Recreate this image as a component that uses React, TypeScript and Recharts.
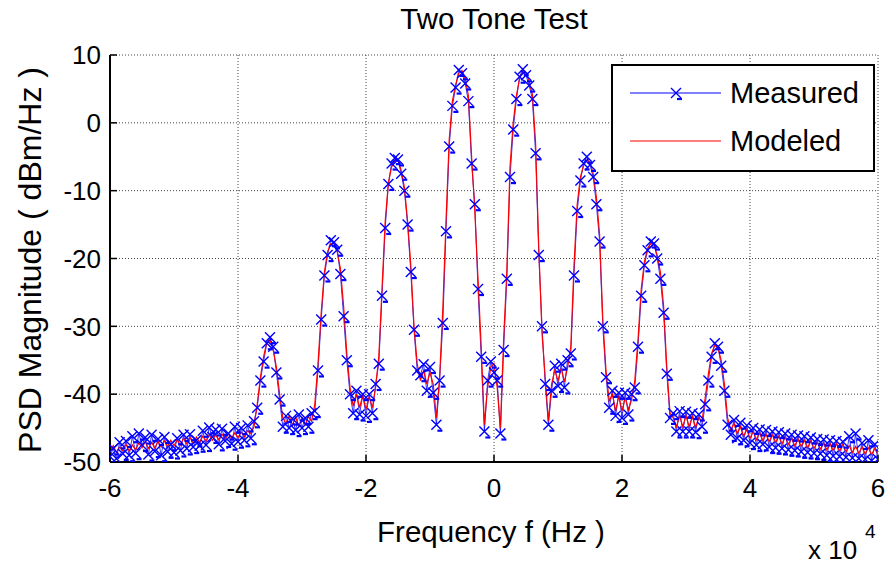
import { LineChart, Line, XAxis, YAxis, CartesianGrid } from "recharts";

// frequency grid, in units of 10^4 Hz
const freqStart = -6;
const freqStep = 0.05;

// PSD (dBm/Hz), one row per 1 x 10^4 Hz
const measured = [
  -49.2, -48.0, -49.5, -47.1, -48.8, -46.9, -49.0, -46.2, -48.7, -45.8, -47.5, -46.4, -48.9, -46.0, -48.4, -46.6, -49.0, -46.3, -48.5, -47.4,
  -48.6, -46.5, -48.3, -46.0, -48.0, -45.9, -47.8, -46.8, -47.6, -45.4, -47.5, -44.9, -46.3, -45.2, -47.4, -45.1, -46.9, -45.8, -47.3, -44.8,
  -47.0, -45.0, -46.8, -44.6, -46.5, -44.0, -42.0, -38.0, -35.2, -32.5, -31.6, -33.0, -36.8, -40.8, -44.8, -43.2, -45.0, -43.6, -45.3, -43.0,
  -45.0, -43.5, -44.8, -42.8, -42.5, -36.5, -29.0, -22.5, -19.5, -17.3, -17.6, -18.7, -22.3, -28.5, -35.0, -40.0, -42.8, -39.5, -43.0, -40.0,
  -43.2, -40.0, -42.8, -38.5, -35.5, -25.5, -15.5, -9.0, -6.0, -5.2, -5.4, -7.5, -10.0, -15.0, -22.0, -30.5, -36.5, -37.2, -35.6, -39.5,
  -36.0, -39.8, -44.5, -38.0, -29.5, -16.0, -3.5, 2.5, 5.2, 7.8, 7.3, 5.8, 3.2, -6.0, -12.0, -24.5, -34.5, -45.5, -38.0, -35.2,
  -36.8, -38.0, -45.8, -33.5, -23.0, -8.0, -1.0, 3.5, 6.8, 7.9, 7.0, 5.5, 3.5, -4.5, -19.5, -30.0, -38.5, -44.5, -39.5, -35.8,
  -38.8, -35.5, -39.0, -35.0, -34.0, -22.5, -13.0, -8.5, -6.0, -5.0, -6.2, -8.0, -12.0, -17.5, -30.0, -37.5, -42.0, -39.5, -43.2, -39.8,
  -43.5, -39.8, -43.0, -40.0, -39.0, -33.0, -25.5, -21.0, -18.8, -17.5, -17.8, -20.0, -23.0, -28.0, -37.0, -43.5, -42.8, -45.5, -42.5, -45.5,
  -42.6, -45.5, -42.8, -45.6, -43.0, -44.8, -41.5, -38.0, -34.5, -32.5, -33.0, -35.8, -39.5, -44.5, -46.0, -43.8, -46.5, -44.2, -46.8, -44.6,
  -47.2, -45.0, -47.5, -45.2, -47.4, -45.3, -47.8, -45.5, -47.9, -45.6, -48.0, -45.8, -48.2, -46.0, -48.3, -46.1, -48.5, -46.2, -48.6, -46.4,
  -48.7, -46.6, -48.8, -46.7, -49.0, -46.8, -49.1, -46.9, -49.2, -47.0, -49.3, -46.2, -49.4, -45.8, -49.5, -47.2, -49.6, -46.8, -49.8, -47.4,
  -49.6,
];

const modeled = [
  -48.5, -47.6, -48.6, -47.8, -48.3, -47.4, -48.4, -47.5, -48.2, -47.2, -47.9, -47.0, -48.0, -47.1, -47.9, -47.0, -47.8, -46.9, -47.7, -46.8,
  -47.6, -46.7, -47.5, -46.5, -47.3, -46.4, -47.2, -46.3, -47.1, -46.2, -46.9, -46.0, -46.8, -46.0, -46.7, -45.9, -46.6, -45.8, -46.5, -45.7,
  -46.4, -45.6, -46.3, -45.4, -45.8, -44.8, -41.5, -37.5, -34.5, -32.3, -32.0, -33.5, -36.0, -40.0, -43.5, -44.3, -43.2, -44.6, -43.4, -44.7,
  -43.5, -44.5, -43.3, -44.0, -41.5, -35.5, -28.0, -22.0, -19.0, -17.8, -17.8, -19.0, -21.5, -27.0, -34.0, -39.0, -41.8, -40.0, -42.0, -40.2,
  -42.2, -40.4, -42.0, -39.0, -34.5, -24.5, -14.5, -8.8, -6.5, -5.5, -5.6, -7.0, -9.5, -14.5, -21.0, -30.0, -35.5, -38.0, -36.5, -38.5,
  -36.8, -38.5, -43.5, -37.5, -27.5, -14.5, -2.5, 3.2, 5.6, 7.3, 7.7, 6.5, 4.0, -5.0, -13.0, -23.0, -33.0, -44.5, -39.0, -36.0,
  -35.5, -39.0, -45.0, -32.0, -22.0, -6.5, 0.0, 4.0, 6.5, 7.7, 7.4, 6.0, 4.2, -3.0, -18.5, -31.0, -37.5, -44.0, -38.5, -36.5,
  -38.0, -36.2, -38.2, -36.0, -33.0, -21.0, -12.0, -8.0, -6.3, -5.5, -5.8, -7.5, -11.0, -16.5, -29.0, -36.5, -41.0, -40.0, -42.5, -40.2,
  -42.5, -40.5, -42.3, -40.8, -38.0, -32.0, -24.5, -20.5, -18.5, -17.8, -18.0, -19.5, -22.0, -27.0, -36.0, -42.8, -43.5, -44.8, -43.2, -44.8,
  -43.2, -44.8, -43.3, -44.9, -43.5, -44.0, -40.5, -37.0, -34.0, -32.8, -33.2, -35.0, -38.5, -43.5, -45.3, -44.3, -45.8, -44.8, -46.2, -45.2,
  -46.5, -45.5, -46.7, -45.7, -46.8, -45.9, -47.0, -46.0, -47.1, -46.2, -47.3, -46.3, -47.4, -46.5, -47.6, -46.6, -47.7, -46.8, -47.9, -46.9,
  -48.0, -47.1, -48.1, -47.2, -48.2, -47.3, -48.3, -47.3, -48.4, -47.4, -48.5, -47.6, -48.6, -47.7, -48.7, -47.8, -48.8, -47.9, -48.9, -48.0,
  -48.8,
];

const xTicks = [-6, -4, -2, 0, 2, 4, 6];
const yTicks = [-50, -40, -30, -20, -10, 0, 10];

const data = measured.map((m, i) => ({
  f: Number((freqStart + i * freqStep).toFixed(2)),
  measured: m,
  modeled: modeled[i],
}));

const font = '"Liberation Sans", Arial, Helvetica, sans-serif';
const blue = "#0000ff";
const red = "#ff0000";

// matlab-ish "x" marker (with the little dash the original rendering shows)
function XMark({ cx, cy }: { cx?: number; cy?: number }) {
  if (cx == null || cy == null || isNaN(cx) || isNaN(cy)) return null;
  const s = 5;
  return (
    <g>
      <path
        d={`M${cx - s},${cy - s}L${cx + s},${cy + s}M${cx - s},${cy + s}L${cx + s},${cy - s}`}
        stroke={blue}
        strokeWidth={1.4}
        fill="none"
      />
      <path d={`M${cx + 1},${cy + s + 1}L${cx + 6},${cy + s + 1}`} stroke={blue} strokeWidth={2.2} />
    </g>
  );
}

export default function App() {
  const tickStyle = { fontSize: 26, fill: "#000", fontFamily: font };
  return (
    <div style={{ position: "absolute", left: 0, top: 0, width: 885, height: 569, background: "#fff", fontFamily: font }}>
      <LineChart width={885} height={569} data={data} margin={{ top: 55, right: 7, bottom: 67, left: 0 }}>
        <CartesianGrid stroke="#444" strokeDasharray="1 2" />
        <XAxis
          dataKey="f"
          type="number"
          domain={[-6, 6]}
          ticks={xTicks}
          allowDataOverflow
          height={40}
          tickSize={-7}
          tickMargin={24}
          tick={tickStyle}
          axisLine={{ stroke: "#000", strokeWidth: 2 }}
          tickLine={{ stroke: "#000", strokeWidth: 1.5 }}
        />
        <XAxis
          xAxisId="top"
          orientation="top"
          type="number"
          domain={[-6, 6]}
          ticks={xTicks}
          allowDataOverflow
          height={0}
          tickSize={-7}
          tickFormatter={() => ""}
          axisLine={{ stroke: "#000", strokeWidth: 2 }}
          tickLine={{ stroke: "#000", strokeWidth: 1.5 }}
        />
        <YAxis
          type="number"
          domain={[-50, 10]}
          ticks={yTicks}
          allowDataOverflow
          width={110}
          tickSize={-7}
          tickMargin={16}
          tick={tickStyle}
          axisLine={{ stroke: "#000", strokeWidth: 2 }}
          tickLine={{ stroke: "#000", strokeWidth: 1.5 }}
        />
        <YAxis
          yAxisId="right"
          orientation="right"
          type="number"
          domain={[-50, 10]}
          ticks={yTicks}
          allowDataOverflow
          width={0}
          tickSize={-7}
          tickFormatter={() => ""}
          axisLine={{ stroke: "#000", strokeWidth: 2 }}
          tickLine={{ stroke: "#000", strokeWidth: 1.5 }}
        />
        <Line
          dataKey="measured"
          stroke={blue}
          strokeWidth={0.8}
          dot={(p: any) => <XMark key={p.index} cx={p.cx} cy={p.cy} />}
          activeDot={false}
          isAnimationActive={false}
        />
        <Line
          dataKey="modeled"
          stroke={red}
          strokeWidth={1.2}
          dot={false}
          activeDot={false}
          isAnimationActive={false}
        />
      </LineChart>

      {/* Title */}
      <div style={{ position: "absolute", left: 294, width: 400, top: 3, textAlign: "center", fontSize: 29.5, lineHeight: "32px" }}>
        Two Tone Test
      </div>

      {/* Axis labels */}
      <div style={{ position: "absolute", left: 291, width: 400, top: 516, textAlign: "center", fontSize: 29.5, lineHeight: "32px" }}>
        Frequency f (Hz )
      </div>
      <div
        style={{
          position: "absolute",
          left: 30 - 250,
          top: 260 - 16,
          width: 500,
          textAlign: "center",
          fontSize: 32,
          lineHeight: "32px",
          transform: "rotate(-90deg)",
        }}
      >
        PSD Magnitude ( dBm/Hz )
      </div>
      <div style={{ position: "absolute", left: 808, top: 536, fontSize: 26, lineHeight: "28px" }}>x 10</div>
      <div style={{ position: "absolute", left: 865, top: 522, fontSize: 19, lineHeight: "20px" }}>4</div>

      {/* Legend */}
      <div
        style={{
          position: "absolute",
          left: 611,
          top: 64,
          width: 260,
          height: 104,
          border: "2px solid #000",
          background: "#fff",
        }}
      >
        <svg width={110} height={104} style={{ position: "absolute", left: 0, top: 0 }}>
          <line x1={17} x2={108} y1={27} y2={27} stroke={blue} strokeWidth={1} />
          <XMark cx={63} cy={27} />
          <line x1={17} x2={108} y1={75} y2={75} stroke={red} strokeWidth={1.2} />
        </svg>
        <div style={{ position: "absolute", left: 117, top: 12, fontSize: 29, lineHeight: "30px" }}>Measured</div>
        <div style={{ position: "absolute", left: 117, top: 60, fontSize: 29, lineHeight: "30px" }}>Modeled</div>
      </div>
    </div>
  );
}
